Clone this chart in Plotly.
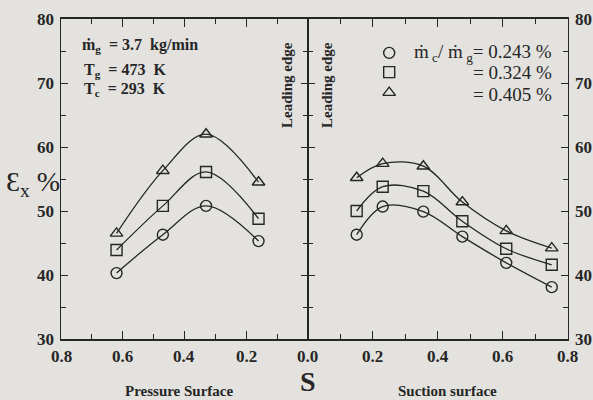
import plotly.graph_objects as go

# Pressure surface (left panel, reversed axis)
s_pressure = [0.62, 0.47, 0.33, 0.16]
eps_p_0243 = [40.3, 46.3, 50.8, 45.3]
eps_p_0324 = [43.9, 50.8, 56.1, 48.8]
eps_p_0405 = [46.5, 56.3, 62.0, 54.5]

# Suction surface (right panel)
s_suction = [0.15, 0.23, 0.355, 0.475, 0.61, 0.75]
eps_s_0243 = [46.3, 50.7, 49.9, 46.0, 41.9, 38.1]
eps_s_0324 = [50.0, 53.8, 53.1, 48.4, 44.1, 41.6]
eps_s_0405 = [55.2, 57.4, 57.0, 51.4, 46.9, 44.2]

series = [
    ("circle-open", eps_p_0243, eps_s_0243),
    ("square-open", eps_p_0324, eps_s_0324),
    ("triangle-up-open", eps_p_0405, eps_s_0405),
]

x_ticks_left = [0.8, 0.6, 0.4, 0.2, 0.0]
x_text_left = ["0.8", "0.6", "0.4", "0.2", ""]
x_ticks_right = [0.0, 0.2, 0.4, 0.6, 0.8]
x_text_right = ["0.0", "0.2", "0.4", "0.6", "0.8"]
y_ticks = [30, 40, 50, 60, 70, 80]
y_text = ["30", "40", "50", "60", "70", "80"]

# Legend marker positions (in suction-panel data coords)
leg_syms = ["circle-open", "square-open", "triangle-up-open"]
leg_x = [0.25, 0.25, 0.25]
leg_y = [74.7, 71.7, 68.5]

INK = "#262626"
BG = "#e3e2df"
FONT = "Liberation Serif"
L, R, T, B = 61, 25, 19, 61
W, H = 593, 400

fig = go.Figure()
for sym, yp, ys in series:
    fig.add_trace(go.Scatter(x=s_pressure, y=yp, mode="lines+markers",
                             line=dict(color=INK, width=1.3, shape="spline"),
                             marker=dict(symbol=sym, size=11, color=INK, line=dict(width=1.4, color=INK)),
                             xaxis="x", yaxis="y", showlegend=False))
    fig.add_trace(go.Scatter(x=s_suction, y=ys, mode="lines+markers",
                             line=dict(color=INK, width=1.3, shape="spline"),
                             marker=dict(symbol=sym, size=11, color=INK, line=dict(width=1.4, color=INK)),
                             xaxis="x2", yaxis="y2", showlegend=False))

fig.add_trace(go.Scatter(x=leg_x, y=leg_y, mode="markers",
                         marker=dict(symbol=leg_syms, size=11, color=INK, line=dict(width=1.4, color=INK)),
                         xaxis="x2", yaxis="y2", showlegend=False, cliponaxis=False))

minor_x = dict(dtick=0.1, tick0=0, ticks="inside", ticklen=5, tickwidth=1.2, tickcolor=INK)
common_x = dict(ticks="inside", ticklen=8, tickwidth=1.3, tickcolor=INK, showline=True,
                linecolor=INK, linewidth=1.6, mirror="ticks", showgrid=False, zeroline=False,
                showticklabels=False, minor=minor_x)
common_y = dict(range=[30, 80], tickvals=y_ticks, ticks="inside", ticklen=7,
                tickwidth=1.3, tickcolor=INK, showline=True, linecolor=INK, linewidth=1.4,
                mirror="ticks", showgrid=False, zeroline=False, showticklabels=False,
                minor=dict(dtick=5, ticks="inside", ticklen=5, tickwidth=1.2, tickcolor=INK))
fig.update_layout(
    width=W, height=H,
    margin=dict(l=L, r=R, t=T, b=B),
    paper_bgcolor=BG, plot_bgcolor=BG,
    font=dict(family=FONT, color=INK, size=17),
    xaxis=dict(domain=[0, 0.487], range=[0.8, 0.0], tickvals=x_ticks_left, **common_x),
    xaxis2=dict(domain=[0.487, 1.0], range=[0.0, 0.8], tickvals=x_ticks_right, **common_x),
    yaxis=dict(anchor="x", **common_y),
    yaxis2=dict(anchor="x2", side="right", **common_y),
)

tick_font = dict(family=FONT, size=17, color=INK)
# Tick labels placed through the axes' own coordinates
for xr, vals, texts in (("x", x_ticks_left, x_text_left), ("x2", x_ticks_right, x_text_right)):
    for v, t in zip(vals, texts):
        if t:
            fig.add_annotation(text=f"<b>{t}</b>", x=v, xref=xr, y=0, yref="paper",
                               yanchor="top", yshift=-6, showarrow=False, font=tick_font)
for v, t in zip(y_ticks, y_text):
    fig.add_annotation(text=f"<b>{t}</b>", x=0, xref="paper", y=v, yref="y",
                       xanchor="right", xshift=-5, showarrow=False, font=tick_font)
    fig.add_annotation(text=f"<b>{t}</b>", x=1, xref="paper", y=v, yref="y2",
                       xanchor="left", xshift=5, showarrow=False, font=tick_font)


def pa(text, px, py, size=15, xanchor="left", textangle=0):
    x = (px - L) / (W - L - R)
    y = (H - B - py) / (H - B - T)
    fig.add_annotation(text=text, x=x, y=y, xref="paper", yref="paper", showarrow=False,
                       xanchor=xanchor, yanchor="middle", textangle=textangle,
                       font=dict(family=FONT, size=size, color=INK))


pa("<b>ṁ<sub>g</sub>  = 3.7  kg/min</b>", 80, 45, size=16)
pa("<b>T<sub>g</sub>  = 473  K</b>", 82, 70, size=16)
pa("<b>T<sub>c</sub>  = 293  K</b>", 82, 89, size=16)

pa("<b>Leading edge</b>", 287, 85, size=15, textangle=-90, xanchor="center")
pa("<b>Leading edge</b>", 327, 85, size=15, textangle=-90, xanchor="center")

pa("ṁ<sub> c</sub>/ ṁ<sub> g</sub>= 0.243 %", 554, 53, size=19, xanchor="right")
pa("= 0.324 %", 554, 73, size=19, xanchor="right")
pa("= 0.405 %", 554, 94, size=19, xanchor="right")

pa("Ɛ<sub>x</sub> %", 33, 183, size=28, xanchor="center")
pa("<b>S</b>", 308, 381, size=28, xanchor="center")
pa("<b>Pressure Surface</b>", 179, 391, size=15, xanchor="center")
pa("<b>Suction surface</b>", 447, 391, size=15, xanchor="center")

fig.write_html("out.html")
